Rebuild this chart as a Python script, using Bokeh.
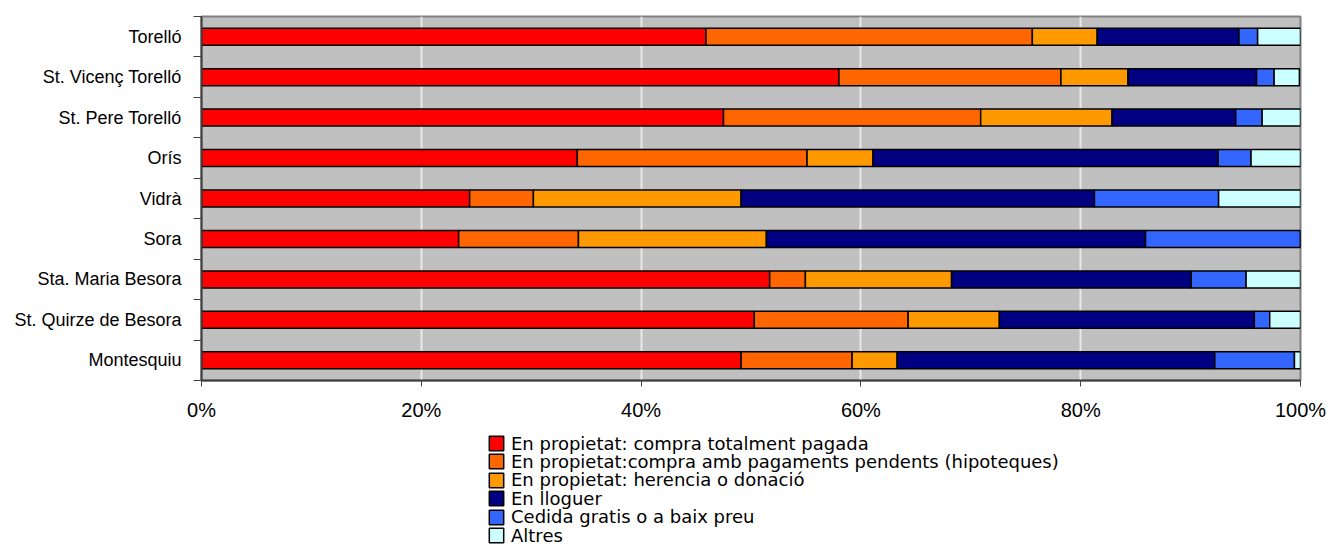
from bokeh.plotting import figure
from bokeh.models import ColumnDataSource, FixedTicker, Legend
from bokeh.layouts import column
from bokeh.embed import file_html
from bokeh.resources import INLINE

municipis = ["Torelló", "St. Vicenç Torelló", "St. Pere Torelló", "Orís", "Vidrà",
             "Sora", "Sta. Maria Besora", "St. Quirze de Besora", "Montesquiu"]
compra_pagada = [45.9, 58.0, 47.5, 34.2, 24.4, 23.4, 51.7, 50.3, 49.1]
compra_hipoteca = [29.7, 20.2, 23.4, 20.9, 5.8, 10.9, 3.25, 14.0, 10.1]
herencia = [5.9, 6.1, 11.95, 6.0, 18.9, 17.1, 13.3, 8.3, 4.1]
lloguer = [12.9, 11.7, 11.26, 31.4, 32.15, 34.5, 21.8, 23.2, 28.9]
cedida = [1.7, 1.6, 2.4, 3.0, 11.3, 14.1, 5.0, 1.4, 7.25]
altres = [3.9, 2.3, 3.5, 4.5, 7.5, 0.0, 5.0, 2.8, 0.7]
series_labels = ["En propietat: compra totalment pagada",
                 "En propietat:compra amb pagaments pendents (hipoteques)",
                 "En propietat: herencia o donació",
                 "En lloguer",
                 "Cedida gratis o a baix preu",
                 "Altres"]
colors = ["#FF0000", "#FF6600", "#FF9900", "#000080", "#3366FF", "#CCFFFF"]
x_ticks = [0, 20, 40, 60, 80, 100]

n = len(municipis)
ypos = [n - 1 - i for i in range(n)]
keys = ["s0", "s1", "s2", "s3", "s4", "s5"]
data = {"y": ypos}
for k, vals in zip(keys, [compra_pagada, compra_hipoteca, herencia, lloguer, cedida, altres]):
    data[k] = vals
source = ColumnDataSource(data)

# ---- main chart ----
p = figure(width=1329, height=428, x_range=(0, 100), y_range=(-0.5, n - 0.5),
           output_backend="svg", toolbar_location=None,
           min_border_left=201, min_border_top=16, min_border_right=29, min_border_bottom=48)
p.background_fill_color = "#C0C0C0"
p.border_fill_color = "white"
p.outline_line_color = "#808080"
p.outline_line_width = 2

p.hbar_stack(keys, y="y", height=0.42, source=source, fill_color=colors,
             line_color="black", line_width=1.5)

p.xaxis.ticker = FixedTicker(ticks=x_ticks)
p.xaxis.major_label_overrides = {t: f"{t}%" for t in x_ticks}
p.xaxis.major_label_text_font = "Liberation Sans"
p.xaxis.major_label_text_font_size = "20px"
p.xaxis.major_label_text_color = "black"
p.xaxis.major_tick_out = 6
p.xaxis.major_tick_in = 0
p.xaxis.major_label_standoff = 12
p.xaxis.minor_tick_line_color = None
p.xaxis.axis_line_color = "#404040"
p.xaxis.axis_line_width = 2
p.xaxis.major_tick_line_color = "#404040"

bounds = [i - 0.5 for i in range(n + 1)]
p.yaxis.ticker = FixedTicker(ticks=ypos, minor_ticks=bounds)
p.yaxis.major_label_overrides = {y: m for y, m in zip(ypos, municipis)}
p.yaxis.major_label_text_font = "Liberation Sans"
p.yaxis.major_label_text_font_size = "18px"
p.yaxis.major_label_text_color = "black"
p.yaxis.major_tick_line_color = None
p.yaxis.major_tick_out = 0
p.yaxis.major_tick_in = 0
p.yaxis.minor_tick_out = 8
p.yaxis.minor_tick_in = 0
p.yaxis.minor_tick_line_color = "#404040"
p.yaxis.major_label_standoff = 12
p.yaxis.axis_line_color = "#404040"
p.yaxis.axis_line_width = 2

p.xgrid.ticker = FixedTicker(ticks=x_ticks)
p.xgrid.grid_line_color = "#E8E8E8"
p.xgrid.grid_line_width = 2
p.ygrid.grid_line_color = None

# ---- legend panel (same series, renderers hidden, only their legend entries shown) ----
pl = figure(width=1329, height=118, x_range=(0, 100), y_range=(-0.5, n - 0.5),
            output_backend="svg", toolbar_location=None,
            x_axis_location=None, y_axis_location=None,
            min_border_left=201, min_border_right=29, min_border_top=0, min_border_bottom=0)
pl.outline_line_color = None
pl.grid.visible = False
leg_renderers = pl.hbar_stack(keys, y="y", height=0.42, source=source, fill_color=colors,
                              line_color="black", line_width=1.5)
for r in leg_renderers:
    r.visible = False

row_step = 18.4
for i, (lab, r) in enumerate(zip(series_labels, leg_renderers)):
    lg = Legend(items=[(lab, [r])], location=(286, 91 - row_step * i))
    lg.label_text_font = "DejaVu Sans"
    lg.label_text_font_size = "18px"
    lg.label_text_color = "black"
    lg.label_height = 24
    lg.glyph_height = 18
    lg.glyph_width = 18
    lg.label_standoff = 6
    lg.spacing = 0
    lg.padding = 0
    lg.margin = 0
    lg.border_line_color = None
    lg.background_fill_alpha = 0
    lg.inactive_fill_alpha = 0
    pl.add_layout(lg, "center")

open("out.html", "w").write(file_html(column(p, pl, spacing=0), INLINE))
